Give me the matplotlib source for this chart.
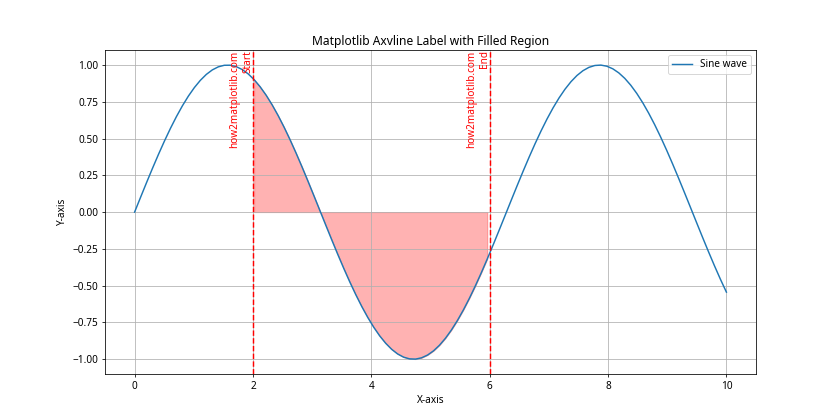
import numpy as np
import matplotlib
matplotlib.use("Agg")
import matplotlib.pyplot as plt

plt.rcParams['font.family'] = ['Noto Sans', 'DejaVu Sans']
plt.rcParams['font.size'] = 10.3

x_start, x_end = 0, 10
n_points = 100
fill_from, fill_to = 2, 6
line_labels = ['how2matplotlib.com\nStart', 'how2matplotlib.com\nEnd']
title = 'Matplotlib Axvline Label with Filled Region'

x = np.linspace(x_start, x_end, n_points)
y = np.sin(x)

fig, ax = plt.subplots(figsize=(12, 6), dpi=70)
ax.plot(x, y, label='Sine wave')
ax.fill_between(x, y, where=(x >= fill_from) & (x <= fill_to), color='red', alpha=0.3)
for xv in [fill_from, fill_to]:
    ax.axvline(x=xv, color='r', linestyle='--')
ylim_top = ax.get_ylim()[1]
for xv, lab in zip([fill_from, fill_to], line_labels):
    ax.text(xv, ylim_top, lab, rotation=90, va='top', ha='right', color='r')
ax.set_title(title)
ax.set_xlabel('X-axis')
ax.set_ylabel('Y-axis')
ax.legend()
ax.grid(True)
fig.savefig('out.png')
